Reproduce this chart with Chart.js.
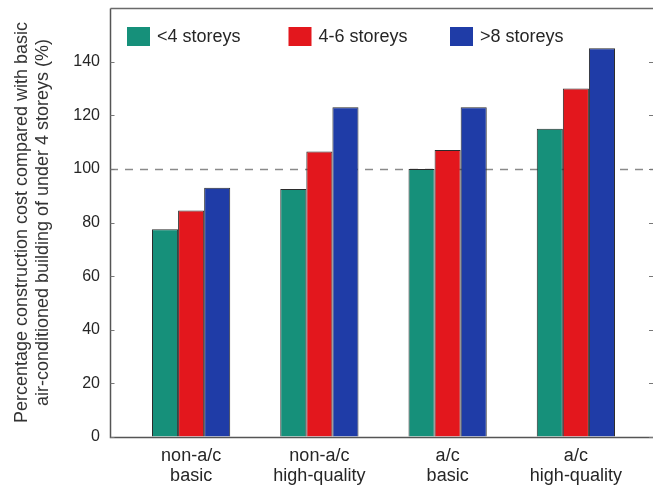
<!DOCTYPE html>
<html>
<head>
<meta charset="utf-8">
<script src="https://cdn.jsdelivr.net/npm/chart.js@4.4.1/dist/chart.umd.min.js"></script>
<style>
    html, body { margin: 0; padding: 0; background: #fff; }
    #wrap { width: 654px; height: 486px; position: relative; }
</style>
</head>
<body>
<div id="wrap"><canvas id="chartCost"></canvas></div>
<script>
// === Data ===
const categories = [['non-a/c', 'basic'], ['non-a/c', 'high-quality'], ['a/c', 'basic'], ['a/c', 'high-quality']];
const seriesNames = ['<4 storeys', '4-6 storeys', '>8 storeys'];
const under4 = [77.5, 92.5, 100, 115];
const from4to6 = [84.5, 106.5, 107, 130];
const over8 = [93, 123, 123, 145];
const yTicks = [0, 20, 40, 60, 80, 100, 120, 140];
const referenceLine = 100;

const colors = ['#16907a', '#e3171d', '#1f3ca7'];
const FONT = "'Liberation Sans', Arial, sans-serif";
const TEXT = '#262626';

// Frame, ticks, dashed reference line and legend
const framePlugin = {
    id: 'frame',
    beforeDatasetsDraw(chart) {
        const { ctx, scales } = chart;
        const y = scales.y;
        const x0 = 110, x1 = 653;
        ctx.save();
        ctx.strokeStyle = '#8a8a8a';
        ctx.lineWidth = 1.5;
        ctx.setLineDash([8, 7]);
        const yr = Math.round(y.getPixelForValue(referenceLine)) + 0.5;
        ctx.beginPath();
        ctx.moveTo(x0, yr);
        ctx.lineTo(x1, yr);
        ctx.stroke();
        ctx.restore();
    },
    afterDraw(chart) {
        const { ctx, chartArea, scales } = chart;
        const y = scales.y;
        const x0 = 110.5, x1 = 653;
        const top = Math.round(chartArea.top) + 0.5;
        const bottom = Math.round(chartArea.bottom) + 0.5;
        ctx.save();
        ctx.strokeStyle = '#555';
        ctx.lineWidth = 1.5;
        ctx.beginPath();
        ctx.moveTo(x0, top);
        ctx.lineTo(x0, bottom);
        ctx.lineTo(x1, bottom);
        ctx.stroke();
        ctx.strokeStyle = '#6a6a6a';
        ctx.beginPath();
        ctx.moveTo(x0, top);
        ctx.lineTo(x1, top);
        ctx.stroke();
        ctx.lineWidth = 1;
        ctx.strokeStyle = '#777';
        yTicks.forEach(v => {
            const py = Math.round(y.getPixelForValue(v)) + 0.5;
            ctx.beginPath();
            ctx.moveTo(x0, py);
            ctx.lineTo(x0 + 4, py);
            ctx.moveTo(x1, py);
            ctx.lineTo(x1 - 4, py);
            ctx.stroke();
        });

        // legend inside plot
        ctx.font = '18px ' + FONT;
        ctx.textBaseline = 'middle';
        chart.data.datasets.forEach((ds, i) => {
            const lx = chartArea.left + i * 161.5;
            const ly = 27;
            ctx.fillStyle = ds.backgroundColor;
            ctx.fillRect(lx, ly, 23, 19);
            ctx.fillStyle = TEXT;
            ctx.fillText(ds.label, lx + 30, ly + 10);
        });
        ctx.restore();
    }
};

const makeSet = (i, data) => ({
    label: seriesNames[i],
    data: data,
    backgroundColor: colors[i],
    borderColor: '#2b2b2b',
    borderWidth: 1,
    categoryPercentage: 0.61,
    barPercentage: 1.0
});

document.addEventListener('DOMContentLoaded', () => {
    const ctx = document.getElementById('chartCost').getContext('2d');
    new Chart(ctx, {
        type: 'bar',
        data: {
            labels: categories,
            datasets: [makeSet(0, under4), makeSet(1, from4to6), makeSet(2, over8)]
        },
        options: {
            responsive: true,
            maintainAspectRatio: false,
            animation: false,
            layout: { padding: { top: 8, right: 14, left: 0, bottom: 0 } },
            plugins: {
                legend: { display: false },
                tooltip: { enabled: false }
            },
            scales: {
                x: {
                    grid: { display: false, drawTicks: false },
                    border: { display: false },
                    ticks: { color: TEXT, font: { family: FONT, size: 18, lineHeight: 1.1 }, padding: 9, maxRotation: 0 },
                    afterFit: (scale) => { scale.height = 49; }
                },
                y: {
                    min: 0,
                    max: 160,
                    grid: { display: true, drawOnChartArea: false, drawTicks: true, tickLength: 27, tickColor: 'rgba(0,0,0,0)' },
                    border: { display: false },
                    afterBuildTicks: (scale) => { scale.ticks = yTicks.map(v => ({ value: v })); },
                    ticks: { color: TEXT, font: { family: FONT, size: 16, lineHeight: 0.9 }, padding: 0 },
                    title: {
                        display: true,
                        text: ['Percentage construction cost compared with basic', 'air-conditioned building of under 4 storeys (%)'],
                        color: '#333',
                        font: { family: FONT, size: 18, lineHeight: 1.18 },
                        padding: { top: 11, bottom: 0 }
                    },
                    afterFit: (scale) => { scale.width = 127; }
                }
            }
        },
        plugins: [framePlugin]
    });
});
</script>
</body>
</html>
